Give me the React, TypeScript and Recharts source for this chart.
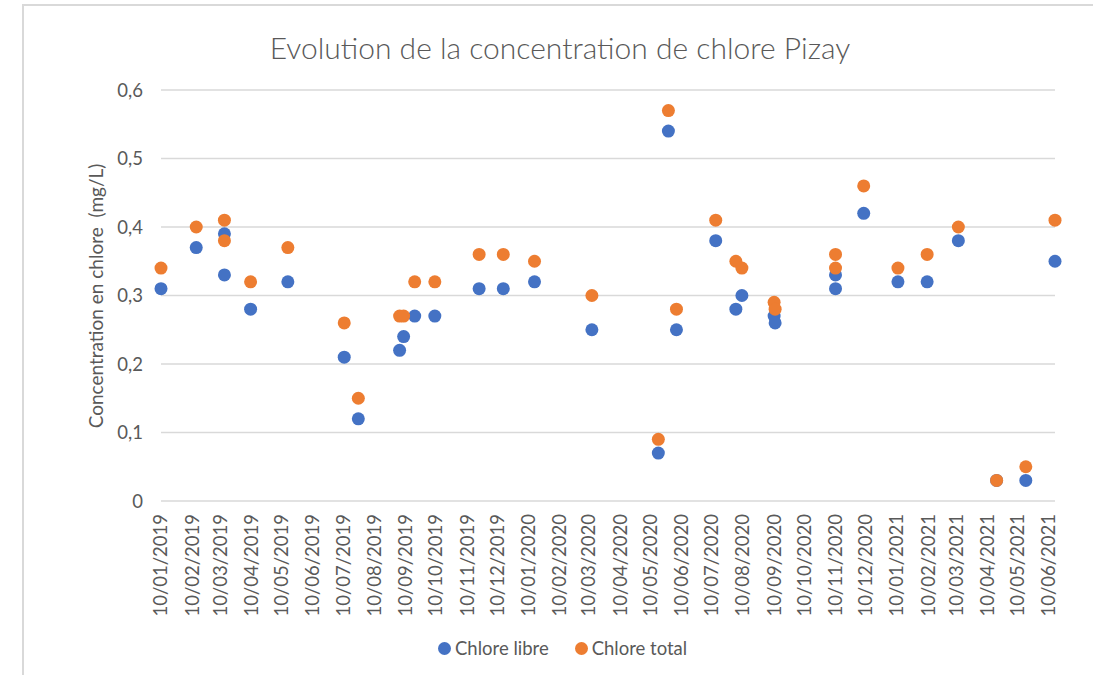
import React from 'react';
import { ScatterChart, Scatter, XAxis, YAxis, CartesianGrid } from 'recharts';

// sampling dates (dd, approximate)
const sampleDates = [
  '2019-01-10', '2019-02-14', '2019-03-14', '2019-03-14', '2019-04-09', '2019-05-16',
  '2019-07-11', '2019-07-25', '2019-09-04', '2019-09-08', '2019-09-19', '2019-10-09',
  '2019-11-22', '2019-12-16', '2020-01-16', '2020-03-13', '2020-05-18', '2020-05-28',
  '2020-06-05', '2020-07-14', '2020-08-03', '2020-08-09', '2020-09-10', '2020-09-11',
  '2020-11-10', '2020-11-10', '2020-12-08', '2021-01-11', '2021-02-09', '2021-03-12',
  '2021-04-19', '2021-05-18', '2021-06-16',
];

const chloreLibre = [
  0.31, 0.37, 0.39, 0.33, 0.28, 0.32,
  0.21, 0.12, 0.22, 0.24, 0.27, 0.27,
  0.31, 0.31, 0.32, 0.25, 0.07, 0.54,
  0.25, 0.38, 0.28, 0.30, 0.27, 0.26,
  0.33, 0.31, 0.42, 0.32, 0.32, 0.38,
  0.03, 0.03, 0.35,
];

const chloreTotal = [
  0.34, 0.40, 0.41, 0.38, 0.32, 0.37,
  0.26, 0.15, 0.27, 0.27, 0.32, 0.32,
  0.36, 0.36, 0.35, 0.30, 0.09, 0.57,
  0.28, 0.41, 0.35, 0.34, 0.29, 0.28,
  0.36, 0.34, 0.46, 0.34, 0.36, 0.40,
  0.03, 0.05, 0.41,
];

const monthTicks = [
  '2019-01-10', '2019-02-10', '2019-03-10', '2019-04-10', '2019-05-10', '2019-06-10',
  '2019-07-10', '2019-08-10', '2019-09-10', '2019-10-10', '2019-11-10', '2019-12-10',
  '2020-01-10', '2020-02-10', '2020-03-10', '2020-04-10', '2020-05-10', '2020-06-10',
  '2020-07-10', '2020-08-10', '2020-09-10', '2020-10-10', '2020-11-10', '2020-12-10',
  '2021-01-10', '2021-02-10', '2021-03-10', '2021-04-10', '2021-05-10', '2021-06-10',
];

const yTicks = [0, 0.1, 0.2, 0.3, 0.4, 0.5, 0.6];

const BLUE = '#4472C4';
const ORANGE = '#ED7D31';
const TEXT = '#595959';
const FONT = 'Lato, "Open Sans", sans-serif';

const toTime = (s: string) => {
  const [y, m, d] = s.split('-').map(Number);
  return Date.UTC(y, m - 1, d);
};

const pad = (n: number) => String(n).padStart(2, '0');
const formatDate = (t: number) => {
  const d = new Date(t);
  return `${pad(d.getUTCDate())}/${pad(d.getUTCMonth() + 1)}/${d.getUTCFullYear()}`;
};

const libreData = sampleDates.map((d, i) => ({ x: toTime(d), y: chloreLibre[i] }));
const totalData = sampleDates.map((d, i) => ({ x: toTime(d), y: chloreTotal[i] }));

const XTick = (props: any) => {
  const { x, y, payload } = props;
  return (
    <text
      x={x}
      y={y}
      dy="0.35em"
      transform={`rotate(-90 ${x} ${y})`}
      textAnchor="end"
      fill={TEXT}
      fontSize={18.5}
      fontFamily={FONT}
    >
      {formatDate(payload.value)}
    </text>
  );
};

const YLabel = () => (
  <text
    x={103}
    y={296}
    transform="rotate(-90 103 296)"
    textAnchor="middle"
    fill={TEXT}
    fontSize={19}
    fontFamily={FONT}
    style={{ whiteSpace: 'pre' }}
  >
    {'Concentration en chlore  (mg/L)'}
  </text>
);

const dotShape = (color: string) => (p: any) => <circle cx={p.cx} cy={p.cy} r={6.5} fill={color} />;

const Dot = ({ color }: { color: string }) => (
  <span style={{ display: 'inline-block', width: 13, height: 13, borderRadius: '50%', background: color, marginRight: 4 }} />
);

export default function App() {
  return (
    <div style={{ position: 'absolute', left: 0, top: 0, width: 1093, height: 675, background: '#fff', overflow: 'hidden', fontFamily: FONT }}>
      <div style={{ position: 'absolute', left: 22, top: 4, width: 1100, height: 700, borderLeft: '2px solid #D9D9D9', borderTop: '2px solid #D9D9D9' }} />
      <div style={{ position: 'absolute', left: 0, top: 29, width: 1120, textAlign: 'center', fontSize: 30, color: TEXT, fontWeight: 300, lineHeight: '36px' }}>
        Evolution de la concentration de chlore Pizay
      </div>
      <div style={{ position: 'absolute', left: 0, top: 0 }}>
        <ScatterChart width={1093} height={675} margin={{ top: 90, right: 38, bottom: 64, left: 0 }}>
          <CartesianGrid vertical={false} stroke="#D9D9D9" strokeWidth={1.5} />
          <XAxis
            type="number"
            dataKey="x"
            domain={[toTime(sampleDates[0]), toTime(sampleDates[sampleDates.length - 1])]}
            ticks={monthTicks.map(toTime)}
            interval={0}
            tick={<XTick />}
            tickSize={0}
            tickMargin={13}
            axisLine={false}
            tickLine={false}
            height={110}
          />
          <YAxis
            type="number"
            dataKey="y"
            domain={[0, 0.6]}
            ticks={yTicks}
            interval={0}
            tickFormatter={(v: number) => String(v).replace('.', ',')}
            tick={{ fill: TEXT, fontSize: 18.5, fontFamily: FONT }}
            tickSize={0}
            tickMargin={18}
            axisLine={false}
            tickLine={false}
            width={161}
            label={{ content: <YLabel /> }}
          />
          <Scatter name="Chlore libre" data={libreData} fill={BLUE} shape={dotShape(BLUE)} isAnimationActive={false} />
          <Scatter name="Chlore total" data={totalData} fill={ORANGE} shape={dotShape(ORANGE)} isAnimationActive={false} />
        </ScatterChart>
      </div>
      <div style={{ position: 'absolute', left: 438, top: 636, display: 'flex', alignItems: 'center', fontSize: 18.5, color: TEXT, whiteSpace: 'nowrap', lineHeight: '24px' }}>
        <Dot color={BLUE} />
        <span>Chlore libre</span>
        <span style={{ width: 26 }} />
        <Dot color={ORANGE} />
        <span>Chlore total</span>
      </div>
    </div>
  );
}
